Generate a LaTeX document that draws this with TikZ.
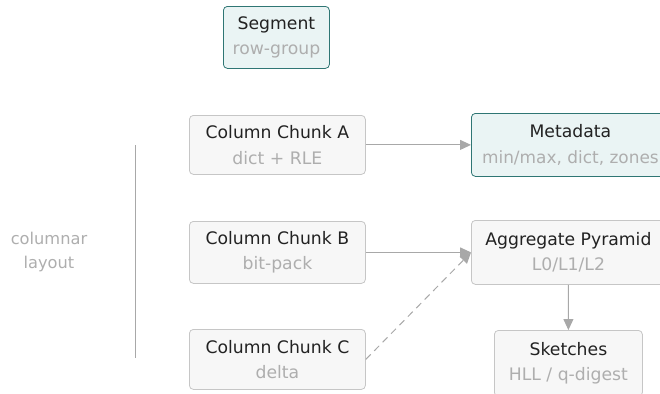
\documentclass[tikz,border=0pt]{standalone}
\usepackage{fontspec}
\setmainfont{DejaVu Sans}
\usetikzlibrary{arrows.meta}
\definecolor{tealedge}{HTML}{2F7674}
\definecolor{tealfill}{HTML}{EAF4F4}
\definecolor{greyedge}{HTML}{C6C6C6}
\definecolor{greyfill}{HTML}{F7F7F7}
\definecolor{subtext}{HTML}{AEAEAE}
\definecolor{maintext}{HTML}{222222}
\definecolor{linegrey}{HTML}{A8A8A8}
\tikzset{
  box/.style={draw=greyedge, fill=greyfill, rounded corners=4bp, line width=0.8bp,
    align=center, inner sep=0pt, anchor=north west},
  hibox/.style={box, draw=tealedge, fill=tealfill},
  flow/.style={draw=linegrey, line width=1bp, -{Triangle[length=11bp,width=10bp]}},
  caption/.style={text=subtext, font=\fontsize{16.3}{24}\selectfont, align=center},
}
\newcommand{\twoline}[2]{{\color{maintext}#1}\\[0bp]{\color{subtext}#2}}
\begin{document}
\begin{tikzpicture}[x=1bp,y=-1bp, font=\fontsize{17.3}{25.5}\selectfont]
\useasboundingbox (0,0) rectangle (660,393);
\clip (0,0) rectangle (660,393);
% top-level segment
\node[hibox, minimum width=106bp, minimum height=62bp] (seg) at (223,6) {\twoline{Segment}{row-group}};
% column chunks
\node[box, minimum width=176bp, minimum height=59bp] (ca) at (189,115) {\twoline{Column Chunk A}{dict + RLE}};
\node[box, minimum width=176bp, minimum height=62bp] (cb) at (189,221) {\twoline{Column Chunk B}{bit-pack}};
\node[box, minimum width=176bp, minimum height=60bp] (cc) at (189,329) {\twoline{Column Chunk C}{delta}};
% derived structures
\node[hibox, minimum width=198bp, minimum height=63bp] (meta) at (471,113) {\twoline{Metadata}{\fontsize{17}{25.5}\selectfont min/max, dict, zones}};
\node[box, minimum width=194bp, minimum height=64bp] (agg) at (471,220) {\twoline{Aggregate Pyramid}{L0/L1/L2}};
\node[box, minimum width=148bp, minimum height=66bp] (sk) at (494,330) {\twoline{Sketches}{HLL / q-digest}};
% side label
\coordinate (rtop) at (135,145);
\coordinate (rbot) at (135,358);
\draw[draw=linegrey, line width=1bp] (rtop) -- (rbot);
\node[caption] (lbl) at (49,252) {columnar\\layout};
% connectors
\draw[flow] (ca.east) -- (ca.east -| meta.west);
\draw[flow] (cb.east) -- (cb.east -| agg.west);
\draw[flow, dashed, dash pattern=on 7bp off 5bp] (cc.east) -- (cb.east -| agg.west);
\draw[flow] (agg.south) -- (sk.north);
\end{tikzpicture}
\end{document}
